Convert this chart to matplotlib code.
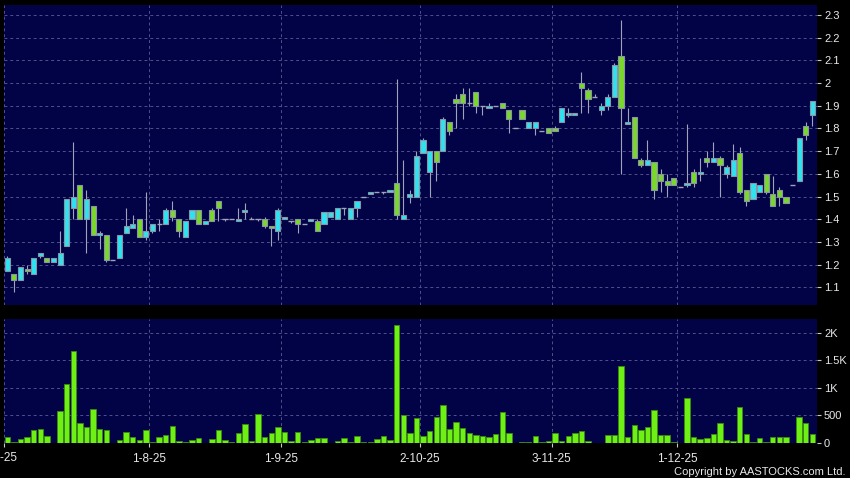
import matplotlib
matplotlib.use("Agg")
import matplotlib.pyplot as plt
import numpy as np

plt.rcParams['font.family'] = ['Liberation Sans', 'DejaVu Sans']

# ---- data ----
opens = [1.17, 1.16, 1.13, 1.18, 1.16, 1.24, 1.23, 1.21, 1.20, 1.28,
         1.45, 1.55, 1.40, 1.46, 1.33, 1.33, 1.22, 1.23, 1.34, 1.36,
         1.40, 1.32, 1.35, 1.38, 1.38, 1.44, 1.40, 1.32, 1.40, 1.44,
         1.38, 1.44, 1.48, 1.40, 1.40, 1.39, 1.43, 1.40, 1.40, 1.40,
         1.37, 1.35, 1.40, 1.39, 1.40, 1.38, 1.39, 1.39, 1.38, 1.41,
         1.40, 1.45, 1.40, 1.45, 1.50, 1.51, 1.52, 1.52, 1.52, 1.56,
         1.40, 1.50, 1.50, 1.69, 1.61, 1.70, 1.70, 1.83, 1.93, 1.95,
         1.91, 1.96, 1.90, 1.89, 1.90, 1.91, 1.88, 1.80, 1.88, 1.80,
         1.80, 1.79, 1.80, 1.80, 1.83, 1.86, 1.86, 2.00, 1.97, 1.94,
         1.88, 1.90, 1.94, 2.12, 1.82, 1.85, 1.66, 1.64, 1.65, 1.60,
         1.57, 1.58, 1.54, 1.55, 1.61, 1.60, 1.67, 1.65, 1.67, 1.60,
         1.59, 1.69, 1.53, 1.49, 1.52, 1.60, 1.51, 1.53, 1.50, 1.55,
         1.57, 1.81, 1.86]
highs = [1.24, 1.16, 1.19, 1.20, 1.23, 1.25, 1.23, 1.23, 1.35, 1.49,
         1.74, 1.55, 1.53, 1.46, 1.35, 1.33, 1.22, 1.33, 1.45, 1.42,
         1.40, 1.52, 1.38, 1.40, 1.45, 1.48, 1.40, 1.39, 1.44, 1.44,
         1.39, 1.45, 1.48, 1.40, 1.40, 1.45, 1.47, 1.41, 1.40, 1.41,
         1.37, 1.45, 1.41, 1.39, 1.40, 1.38, 1.40, 1.40, 1.43, 1.43,
         1.45, 1.45, 1.45, 1.48, 1.50, 1.52, 1.52, 1.52, 1.53, 2.02,
         1.66, 1.53, 1.70, 1.76, 1.70, 1.70, 1.85, 1.83, 1.95, 1.98,
         1.98, 1.96, 1.90, 1.91, 1.90, 1.91, 1.88, 1.80, 1.88, 1.83,
         1.83, 1.79, 1.80, 1.81, 1.89, 1.89, 1.87, 2.05, 1.98, 1.95,
         1.91, 1.95, 2.09, 2.28, 1.89, 1.85, 1.67, 1.75, 1.65, 1.62,
         1.60, 1.58, 1.54, 1.82, 1.62, 1.67, 1.70, 1.74, 1.68, 1.64,
         1.73, 1.72, 1.53, 1.56, 1.55, 1.60, 1.59, 1.54, 1.50, 1.55,
         1.76, 1.83, 1.92]
lows = [1.17, 1.08, 1.13, 1.16, 1.16, 1.23, 1.21, 1.21, 1.20, 1.28,
        1.40, 1.40, 1.25, 1.33, 1.27, 1.21, 1.22, 1.23, 1.34, 1.36,
        1.32, 1.31, 1.34, 1.35, 1.38, 1.39, 1.32, 1.32, 1.40, 1.38,
        1.38, 1.39, 1.39, 1.39, 1.40, 1.39, 1.40, 1.40, 1.39, 1.36,
        1.28, 1.31, 1.40, 1.385, 1.34, 1.38, 1.39, 1.35, 1.38, 1.41,
        1.40, 1.42, 1.40, 1.41, 1.50, 1.51, 1.52, 1.51, 1.52, 1.40,
        1.40, 1.47, 1.50, 1.69, 1.50, 1.57, 1.70, 1.77, 1.80, 1.84,
        1.90, 1.87, 1.86, 1.89, 1.90, 1.89, 1.78, 1.80, 1.84, 1.80,
        1.77, 1.79, 1.78, 1.79, 1.83, 1.85, 1.86, 1.87, 1.87, 1.94,
        1.86, 1.88, 1.94, 1.60, 1.82, 1.67, 1.63, 1.64, 1.49, 1.52,
        1.50, 1.55, 1.54, 1.54, 1.54, 1.57, 1.63, 1.65, 1.50, 1.58,
        1.59, 1.51, 1.46, 1.49, 1.52, 1.51, 1.46, 1.46, 1.47, 1.55,
        1.57, 1.75, 1.81]
closes = [1.23, 1.13, 1.19, 1.17, 1.23, 1.25, 1.21, 1.23, 1.25, 1.49,
          1.50, 1.40, 1.49, 1.33, 1.34, 1.22, 1.22, 1.33, 1.37, 1.38,
          1.32, 1.35, 1.38, 1.38, 1.44, 1.41, 1.35, 1.39, 1.44, 1.38,
          1.39, 1.39, 1.45, 1.40, 1.40, 1.40, 1.44, 1.40, 1.40, 1.37,
          1.36, 1.44, 1.41, 1.39, 1.38, 1.38, 1.40, 1.35, 1.43, 1.43,
          1.45, 1.45, 1.45, 1.48, 1.50, 1.52, 1.52, 1.52, 1.53, 1.42,
          1.42, 1.51, 1.68, 1.75, 1.70, 1.65, 1.84, 1.79, 1.91, 1.91,
          1.91, 1.90, 1.90, 1.90, 1.90, 1.89, 1.84, 1.80, 1.84, 1.83,
          1.83, 1.79, 1.78, 1.79, 1.89, 1.87, 1.87, 1.98, 1.93, 1.94,
          1.90, 1.94, 2.08, 1.89, 1.83, 1.67, 1.64, 1.66, 1.53, 1.57,
          1.55, 1.55, 1.54, 1.56, 1.56, 1.61, 1.65, 1.67, 1.64, 1.63,
          1.66, 1.52, 1.48, 1.56, 1.55, 1.52, 1.46, 1.50, 1.47, 1.55,
          1.76, 1.77, 1.92]
volumes = [100, 15, 80, 110, 235, 262, 120, 3, 580, 1075,
           1665, 364, 292, 617, 256, 232, 2, 54, 202, 111,
           54, 238, 18, 111, 148, 304, 36, 18, 54, 99,
           9, 75, 238, 63, 15, 178, 340, 45, 527, 117,
           175, 290, 196, 42, 202, 24, 54, 82, 82, 4,
           36, 90, 24, 130, 24, 24, 69, 133, 48, 2133,
           513, 184, 450, 134, 226, 473, 684, 263, 385, 272,
           180, 150, 119, 101, 165, 571, 186, 0, 22, 22,
           119, 24, 42, 187, 42, 121, 175, 224, 30, 0,
           2, 150, 150, 1390, 100, 318, 230, 287, 595, 150,
           150, 15, 0, 820, 115, 70, 85, 162, 362, 50,
           37, 660, 162, 25, 88, 22, 103, 110, 100, 0,
           472, 356, 165]
date_labels = ["2-7-25", "1-8-25", "1-9-25", "2-10-25", "3-11-25", "1-12-25"]
date_index = [0, 22, 42, 63, 83, 102]      # first trading day of each month
price_ticks = [1.1, 1.2, 1.3, 1.4, 1.5, 1.6, 1.7, 1.8, 1.9, 2.0, 2.1, 2.2, 2.3]
price_tick_labels = ["1.1", "1.2", "1.3", "1.4", "1.5", "1.6", "1.7", "1.8",
                     "1.9", "2", "2.1", "2.2", "2.3"]
vol_ticks = [0, 500, 1000, 1500, 2000]
vol_tick_labels = ["0", "500", "1K", "1.5K", "2K"]

# ---- styling ----
BG = '#020246'
UP = '#30e2f0'
DOWN = '#7ad82a'
EDGE = '#8a94a4'
WICK = '#a0a4b8'
VOL = '#6ef014'
VOL_EDGE = '#3a8c12'
GRID = '#50508a'
TXT = '#e8e8e8'

o = np.array(opens); h = np.array(highs); l = np.array(lows); c = np.array(closes)
v = np.array(volumes)
x = np.arange(len(o))

fig = plt.figure(figsize=(8.5, 4.78), dpi=100, facecolor='black')
ax = fig.add_axes([4/850, 1-305/478, 813/850, 300/478])
axv = fig.add_axes([4/850, 1-443/478, 813/850, 124/478])

for a in (ax, axv):
    a.set_facecolor(BG)
    for s in a.spines.values():
        s.set_visible(False)
    a.set_xlim(-0.5, 122.7)
    a.yaxis.tick_right()
    a.tick_params(axis='y', colors='#c8c8c8', labelcolor=TXT, length=3,
                  width=0.8, pad=2, labelsize=8)
    a.grid(True, color=GRID, linestyle=(0, (3, 3)), linewidth=0.7)
    a.set_axisbelow(True)
    a.set_xticks([i - 0.5 for i in date_index])

ax.tick_params(axis='x', length=0, labelbottom=False)
axv.tick_params(axis='x', colors='#c8c8c8', labelcolor=TXT, length=3,
                width=0.8, pad=4, labelsize=8.5)
# first label sits at the very left edge of the picture and is cut there,
# as in the reference
axv.set_xticklabels([""] + date_labels[1:])
fig.text(0.0, 1-458/478, date_labels[0], color=TXT, fontsize=8.5,
         ha='center', va='center')

# price candles
ax.set_ylim(1.022, 2.344)
ax.set_yticks(price_ticks)
ax.set_yticklabels(price_tick_labels)
ax.vlines(x, l, h, color=WICK, linewidth=0.8, zorder=2)
W = 0.78
up = c > o
dn = c < o
eq = c == o
ax.bar(x[up], (c - o)[up], bottom=o[up], width=W, color=UP,
       edgecolor=EDGE, linewidth=0.8, zorder=3)
ax.bar(x[dn], (o - c)[dn], bottom=c[dn], width=W, color=DOWN,
       edgecolor=EDGE, linewidth=0.8, zorder=3)
ax.hlines(c[eq], x[eq] - W/2, x[eq] + W/2, color=WICK, linewidth=1.0, zorder=3)

# volume
axv.set_ylim(0, 2250)
axv.set_yticks(vol_ticks)
axv.set_yticklabels(vol_tick_labels)
axv.bar(x, v, width=0.82, color=VOL, edgecolor=VOL_EDGE, linewidth=0.6, zorder=3)

fig.text(845/850, 1-472/478, "Copyright by AASTOCKS.com Ltd.", color=TXT,
         fontsize=8, ha='right', va='center')

fig.savefig("out.png", dpi=100, facecolor='black')
